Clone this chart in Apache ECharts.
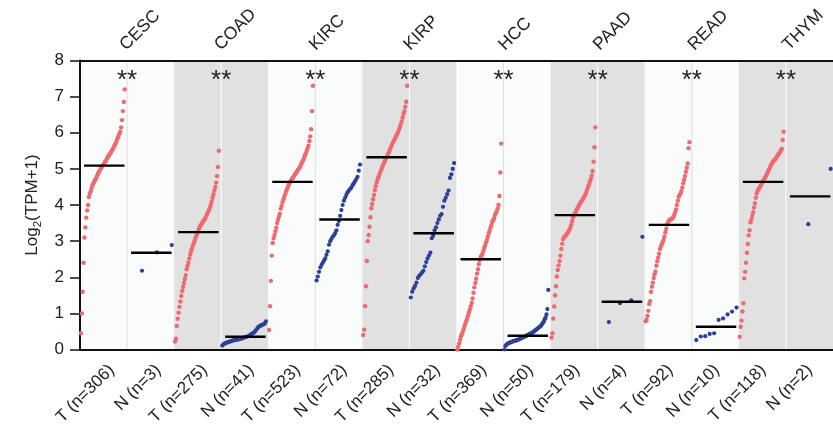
<!DOCTYPE html>
<html>
<head>
<meta charset="utf-8">
<script src="https://cdn.jsdelivr.net/npm/echarts@6/dist/echarts.min.js"></script>
<style>
  html, body { margin: 0; padding: 0; background: #fff; }
  #main { width: 833px; height: 430px; }
</style>
</head>
<body>
<div id="main"></div>
<script>
var cancers = ['CESC', 'COAD', 'KIRC', 'KIRP', 'HCC', 'PAAD', 'READ', 'THYM'];
var tCounts = [306, 275, 523, 285, 369, 179, 92, 118];
var nCounts = [3, 41, 72, 32, 50, 4, 10, 2];
var sig = ['**', '**', '**', '**', '**', '**', '**', '**'];
var tMedian = [5.09, 3.25, 4.64, 5.32, 2.5, 3.72, 3.45, 4.64];
var nMedian = [2.68, 0.355, 3.6, 3.22, 0.38, 1.32, 0.63, 4.24];

// tumour values, sorted, read along the rank curve of each column
var cescT = [0.45,1.0,1.6,2.4,3.1,3.38,3.65,3.85,4.0,4.22, 4.31,4.38,4.47,4.55,4.6,4.65,4.7,4.74,4.8,4.86,
  4.91,4.95,5.0,5.04,5.08,5.11,5.15,5.19,5.22,5.27, 5.32,5.37,5.4,5.44,5.48,5.52,5.56,5.62,5.67,5.71,
  5.78,5.85,5.91,5.97,6.03,6.15,6.35,6.6,6.85,7.2];
var coadT = [0.22,0.3,0.65,0.85,1.02,1.18,1.33,1.48,1.62,1.73, 1.84,1.95,2.06,2.22,2.32,2.4,2.52,2.63,2.72,2.8,
  2.87,2.94,3.01,3.09,3.16,3.22,3.29,3.35,3.41,3.45, 3.49,3.53,3.57,3.6,3.64,3.7,3.76,3.81,3.86,3.93,
  4.0,4.1,4.2,4.3,4.4,4.5,4.62,4.8,5.05,5.5];
var kircT = [0.54,1.2,1.9,2.6,2.95,3.08,3.17,3.27,3.37,3.5, 3.6,3.68,3.76,3.9,3.98,4.08,4.16,4.23,4.3,4.38,
  4.44,4.5,4.57,4.61,4.66,4.7,4.74,4.76,4.82,4.86, 4.88,4.92,4.97,5.0,5.03,5.08,5.14,5.19,5.24,5.3,
  5.37,5.43,5.5,5.57,5.64,5.77,5.9,6.1,6.6,7.3];
var kirpT = [0.4,0.55,1.2,1.75,2.45,3.0,3.17,3.4,3.66,3.91, 4.03,4.16,4.28,4.41,4.52,4.63,4.7,4.77,4.84,4.91,
  4.97,5.03,5.1,5.16,5.21,5.27,5.32,5.37,5.43,5.48, 5.55,5.61,5.66,5.72,5.77,5.82,5.87,5.92,5.97,6.02,
  6.09,6.16,6.24,6.31,6.42,6.52,6.6,6.72,6.86,7.3];
var hccT = [0.0,0.08,0.17,0.27,0.37,0.42,0.49,0.57,0.65,0.72, 0.8,0.87,0.95,1.03,1.11,1.2,1.29,1.41,1.57,1.72,
  1.84,1.96,2.1,2.22,2.36,2.48,2.56,2.6,2.65,2.73, 2.81,2.88,2.96,3.03,3.12,3.22,3.29,3.37,3.44,3.53,
  3.58,3.63,3.72,3.77,3.82,3.9,4.0,4.25,4.9,5.7];
var paadT = [0.33,0.45,0.86,1.19,1.5,1.75,2.02,2.2,2.33,2.45, 2.6,2.78,2.93,3.06,3.1,3.13,3.16,3.19,3.23,3.26,
  3.32,3.37,3.45,3.55,3.65,3.71,3.75,3.8,3.86,3.91, 3.96,4.0,4.04,4.09,4.12,4.16,4.21,4.24,4.3,4.37,
  4.44,4.52,4.57,4.65,4.72,4.82,4.94,5.2,5.6,6.15];
var readT = [0.78,0.82,0.93,1.07,1.26,1.34,1.6,1.74,1.85,1.98, 2.08,2.16,2.32,2.44,2.54,2.65,2.78,2.85,2.91,2.97,
  3.03,3.12,3.24,3.34,3.46,3.52,3.56,3.59,3.6,3.62, 3.63,3.66,3.73,3.8,3.88,4.0,4.12,4.23,4.28,4.32,
  4.38,4.48,4.6,4.7,4.8,4.92,5.03,5.15,5.57,5.74];
var thymT = [0.35,0.63,0.8,1.05,1.28,1.97,2.15,2.4,2.68,2.92, 3.16,3.3,3.52,3.6,3.7,3.8,3.93,4.05,4.2,4.32,
  4.39,4.44,4.48,4.52,4.57,4.62,4.66,4.7,4.75,4.79, 4.83,4.89,4.95,5.0,5.05,5.11,5.15,5.2,5.22,5.25,
  5.28,5.31,5.36,5.4,5.43,5.47,5.51,5.55,5.8,6.03];

// normal values, sorted
var cescN = [2.18, 2.69, 2.89];
var coadN = [0.11,0.14,0.16,0.18,0.19,0.2,0.21,0.22,0.23,0.24, 0.25,0.26,0.26,0.27,0.28,0.28,0.29,0.3,0.31,0.32,
  0.33,0.34,0.35,0.36,0.37,0.39,0.41,0.43,0.45,0.47, 0.5,0.54,0.58,0.62,0.64,0.66,0.67,0.69,0.7,0.72,0.78];
var kircN = [1.91,2.02,2.15,2.27,2.34,2.4,2.46,2.52,2.62,2.72, 2.9,3.0,3.06,3.12,3.16,3.22,3.3,3.45,3.56,3.7,
  3.86,4.0,4.12,4.2,4.28,4.35,4.4,4.44,4.48,4.55, 4.6,4.66,4.72,4.78,4.95,5.12];
var kirpN = [1.44,1.6,1.69,1.76,1.85,1.98,2.04,2.08,2.13,2.18, 2.3,2.42,2.52,2.6,2.68,3.08,3.15,3.3,3.38,3.5,
  3.6,3.7,3.75,3.95,4.12,4.2,4.3,4.4,4.75,4.85, 5.0,5.16];
var hccN = [0.0,0.1,0.13,0.15,0.17,0.18,0.19,0.2,0.21,0.22, 0.23,0.24,0.24,0.25,0.26,0.27,0.28,0.29,0.3,0.32,
  0.33,0.34,0.35,0.36,0.37,0.39,0.4,0.41,0.43,0.44, 0.45,0.47,0.48,0.5,0.52,0.54,0.56,0.58,0.6,0.62,
  0.64,0.66,0.7,0.74,0.77,0.84,0.88,0.97,1.12,1.65];
var paadN = [0.76, 1.28, 1.36, 3.12];
var readN = [0.26,0.36,0.37,0.43,0.45,0.82,0.86,0.97,1.05,1.16];
var thymN = [3.47, 5.0];

var tumorValues = [cescT, coadT, kircT, kirpT, hccT, paadT, readT, thymT];
var normalValues = [cescN, coadN, kircN, kirpN, hccN, paadN, readN, thymN];

var FONT = 'Liberation Sans, Arial, sans-serif';

// x position of each dot = its rank inside the half column
function rankPoints(values, start) {
  return values.map(function (v, k) {
    return [start + (k + 1) / values.length * 0.95, v];
  });
}

var tPoints = [], nPoints = [], medians = [], groupLabels = [];
cancers.forEach(function (c, i) {
  tPoints = tPoints.concat(rankPoints(tumorValues[i], 2 * i));
  nPoints = nPoints.concat(rankPoints(normalValues[i], 2 * i + 1));
  medians.push([2 * i + 0.085, 2 * i + 0.945, tMedian[i]]);
  medians.push([2 * i + 1.085, 2 * i + 1.945, nMedian[i]]);
  groupLabels.push('T (n=' + tCounts[i] + ')');
  groupLabels.push('N (n=' + nCounts[i] + ')');
});

var myChart = echarts.init(document.getElementById('main'));

var option = {
  animation: false,
  grid: [
    { left: 80, top: 60.5, width: 766, height: 289 },
    { left: 88.3, top: 60.5, width: 766, height: 289 },   // bottom labels
    { left: 75.5, top: 60.5, width: 766, height: 289 }    // top labels
  ],
  xAxis: [
    { gridIndex: 0, type: 'value', min: 0, max: 16, position: 'bottom',
      axisLine: { show: true, lineStyle: { color: '#111', width: 2 } },
      axisTick: { show: false }, axisLabel: { show: false }, splitLine: { show: false } },
    { gridIndex: 0, type: 'value', min: 0, max: 16, position: 'top',
      axisLine: { show: true, lineStyle: { color: '#111', width: 2 } },
      axisTick: { show: false }, axisLabel: { show: false }, splitLine: { show: false } },
    { gridIndex: 1, type: 'category', data: groupLabels, position: 'bottom',
      axisLine: { show: false }, axisTick: { show: false },
      axisLabel: { interval: 0, rotate: 45, margin: 18, fontSize: 17, color: '#222', fontFamily: FONT } },
    { gridIndex: 2, type: 'category', data: cancers, position: 'top',
      axisLine: { show: false }, axisTick: { show: false },
      axisLabel: { interval: 0, rotate: 45, margin: 13, fontSize: 17.5, color: '#222', fontFamily: FONT } }
  ],
  yAxis: [
    { gridIndex: 0, type: 'value', min: 0, max: 8, interval: 1,
      axisLine: { show: true, lineStyle: { color: '#111', width: 2 } },
      axisTick: { show: true, length: 10, lineStyle: { color: '#111', width: 1.5 } },
      axisLabel: { fontSize: 17, color: '#222', margin: 16, fontFamily: FONT },
      splitLine: { show: false },
      name: '{a|Log}{b|2}{a|(TPM+1)}', nameLocation: 'middle', nameGap: 34, nameRotate: 90,
      nameTextStyle: {
        color: '#222', fontFamily: FONT,
        rich: {
          a: { fontSize: 17, color: '#222', fontFamily: FONT, lineHeight: 22 },
          b: { fontSize: 11.5, color: '#222', fontFamily: FONT, verticalAlign: 'bottom', lineHeight: 14 }
        }
      } },
    { gridIndex: 1, type: 'value', show: false },
    { gridIndex: 2, type: 'value', show: false }
  ],
  series: [
    {
      // alternating background bands and the T/N divider
      type: 'custom', xAxisIndex: 0, yAxisIndex: 0, silent: true, z: 0,
      data: cancers.map(function (c, i) { return [i, 0]; }),
      renderItem: function (params, api) {
        var i = api.value(0);
        var lt = api.coord([2 * i, 8]);
        var rb = api.coord([2 * i + 2, 0]);
        var mid = api.coord([2 * i + 1, 0]);
        var grey = i % 2 === 1;
        return {
          type: 'group',
          children: [
            { type: 'rect', shape: { x: lt[0], y: lt[1], width: rb[0] - lt[0], height: rb[1] - lt[1] },
              style: { fill: grey ? '#e1e1e1' : '#fafcfc' } },
            { type: 'line', shape: { x1: mid[0], y1: lt[1], x2: mid[0], y2: rb[1] },
              style: { stroke: grey ? '#ffffff' : '#dcdcdc', lineWidth: 1 } }
          ]
        };
      }
    },
    {
      name: 'Tumor', type: 'scatter', xAxisIndex: 0, yAxisIndex: 0, z: 3,
      symbolSize: 4.4, itemStyle: { color: '#ef6970', opacity: 1 },
      data: tPoints
    },
    {
      name: 'Normal', type: 'scatter', xAxisIndex: 0, yAxisIndex: 0, z: 3,
      symbolSize: 4.2, itemStyle: { color: '#2c3f98', opacity: 1 },
      data: nPoints
    },
    {
      // median bars
      type: 'custom', xAxisIndex: 0, yAxisIndex: 0, silent: true, z: 4,
      encode: { x: [0, 1], y: 2 },
      data: medians,
      renderItem: function (params, api) {
        var p0 = api.coord([api.value(0), api.value(2)]);
        var p1 = api.coord([api.value(1), api.value(2)]);
        return { type: 'line', shape: { x1: p0[0], y1: p0[1], x2: p1[0], y2: p1[1] },
          style: { stroke: '#000', lineWidth: 2.4 } };
      }
    },
    {
      // significance marks
      type: 'custom', xAxisIndex: 0, yAxisIndex: 0, silent: true, z: 5,
      data: cancers.map(function (c, i) { return [2 * i + 1, i]; }),
      renderItem: function (params, api) {
        var p = api.coord([api.value(0), 7.45]);
        return { type: 'text', x: p[0], y: p[1],
          style: { text: sig[api.value(1)], fontSize: 26, fontFamily: FONT, fill: '#222',
            align: 'center', verticalAlign: 'middle' } };
      }
    }
  ]
};
myChart.setOption(option);
</script>
</body>
</html>
